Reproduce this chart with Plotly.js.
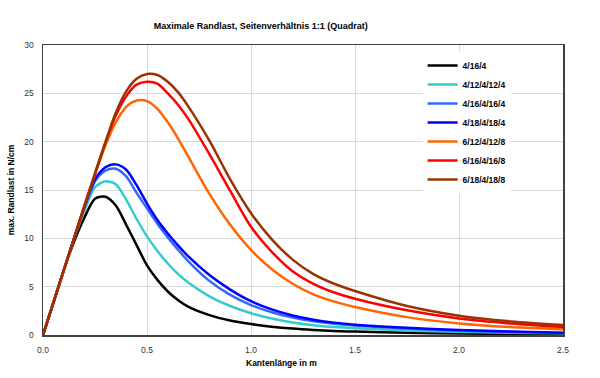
<!DOCTYPE html>
<html>
<head>
<meta charset="utf-8">
<script src="https://cdn.plot.ly/plotly-3.0.1.min.js"></script>
<style>html,body{margin:0;padding:0;background:#fff;}#chart{width:600px;height:378px;}</style>
</head>
<body>
<div id="chart"></div>
<script>
// Kantenlänge in m (shared x values)
const kantenlaenge = [0, 0.05, 0.1, 0.15, 0.2, 0.25, 0.3, 0.35, 0.4, 0.45, 0.5, 0.55, 0.6, 0.65, 0.7, 0.8, 0.9, 1.0, 1.1, 1.2, 1.3, 1.4, 1.5, 1.75, 2.0, 2.25, 2.5];

const seriesNames = ["4/16/4", "4/12/4/12/4", "4/16/4/16/4", "4/18/4/18/4", "6/12/4/12/8", "6/16/4/16/8", "6/18/4/18/8"];

const s_4_16_4 =        [0, 3.35, 6.7, 9.7, 12.2, 14.1, 14.3, 13.4, 11.4, 9.3, 7.2, 5.7, 4.5, 3.6, 2.9, 2.05, 1.5, 1.14, 0.86, 0.66, 0.52, 0.42, 0.35, 0.23, 0.16, 0.11, 0.08];
const s_4_12_4_12_4 =   [0, 3.35, 6.7, 10.0, 12.9, 15.3, 15.9, 15.6, 14.0, 12.0, 10.2, 8.7, 7.4, 6.3, 5.4, 4.0, 3.0, 2.25, 1.7, 1.3, 1.02, 0.83, 0.7, 0.47, 0.33, 0.24, 0.17];
const s_4_16_4_16_4 =   [0, 3.35, 6.7, 10.05, 13.2, 15.9, 17.0, 17.2, 16.4, 14.7, 13.1, 11.5, 10.1, 8.8, 7.6, 5.6, 4.15, 3.1, 2.35, 1.8, 1.42, 1.17, 0.98, 0.66, 0.45, 0.31, 0.21];
const s_4_18_4_18_4 =   [0, 3.35, 6.7, 10.05, 13.3, 16.1, 17.35, 17.65, 17.1, 15.5, 13.6, 11.9, 10.5, 9.25, 8.1, 6.2, 4.7, 3.5, 2.65, 2.02, 1.58, 1.28, 1.07, 0.74, 0.52, 0.36, 0.24];
const s_6_12_4_12_8 =   [0, 3.35, 6.7, 10.05, 13.4, 16.6, 19.6, 22.0, 23.6, 24.25, 24.2, 23.4, 22.0, 20.3, 18.4, 14.6, 11.4, 8.8, 6.8, 5.3, 4.2, 3.45, 2.9, 1.85, 1.2, 0.82, 0.59];
const s_6_16_4_16_8 =   [0, 3.35, 6.7, 10.05, 13.4, 16.7, 19.9, 22.7, 24.7, 25.9, 26.2, 26.0, 25.0, 23.8, 22.3, 18.7, 14.9, 11.2, 8.6, 6.6, 5.3, 4.4, 3.75, 2.55, 1.7, 1.18, 0.82];
const s_6_18_4_18_8 =   [0, 3.35, 6.7, 10.05, 13.4, 16.7, 19.95, 23.0, 25.2, 26.5, 27.0, 26.9, 26.2, 25.1, 23.6, 20.1, 16.1, 12.6, 9.9, 7.8, 6.3, 5.3, 4.55, 3.0, 2.0, 1.4, 1.03];

const seriesValues = [s_4_16_4, s_4_12_4_12_4, s_4_16_4_16_4, s_4_18_4_18_4, s_6_12_4_12_8, s_6_16_4_16_8, s_6_18_4_18_8];
const seriesColors = ["#000000", "#33CCCC", "#3366FF", "#0000FF", "#FF6600", "#FF0000", "#993300"];

const xTicks = [0, 0.5, 1.0, 1.5, 2.0, 2.5];
const yTicks = [0, 5, 10, 15, 20, 25, 30];

const FONT = "Liberation Sans, Arial, Helvetica, sans-serif";

const traces = seriesNames.map((name, i) => ({
  type: "scatter",
  mode: "lines",
  name: name,
  x: kantenlaenge,
  y: seriesValues[i],
  line: {color: seriesColors[i], width: 2.5, shape: "spline", smoothing: 0.8},
  hoverinfo: "skip"
}));

const layout = {
  width: 600,
  height: 378,
  paper_bgcolor: "#ffffff",
  plot_bgcolor: "#ffffff",
  margin: {l: 42.5, r: 36.5, t: 45, b: 43, pad: 0},
  showlegend: true,
  title: {
    text: "Maximale Randlast, Seitenverhältnis 1:1 (Quadrat)",
    font: {family: FONT, size: 9, color: "#000", weight: 700},
    x: 0.4345, xref: "container", xanchor: "center",
    y: 0.932, yref: "container", yanchor: "middle"
  },
  xaxis: {
    range: [0, 2.5],
    tickvals: xTicks,
    tickformat: ".1f",
    showgrid: true,
    gridcolor: "#d9d9d9",
    gridwidth: 1,
    zeroline: false,
    showline: true,
    linecolor: "#404040",
    linewidth: 1.5,
    mirror: true,
    ticks: "",
    ticklabelstandoff: 6,
    tickfont: {family: FONT, size: 8.5, color: "#333"},
    fixedrange: true
  },
  yaxis: {
    range: [0, 30],
    tickvals: yTicks,
    showgrid: true,
    gridcolor: "#d9d9d9",
    gridwidth: 1,
    zeroline: false,
    showline: true,
    linecolor: "#404040",
    linewidth: 1.5,
    mirror: true,
    ticks: "",
    ticklabelstandoff: 6,
    tickfont: {family: FONT, size: 8.5, color: "#333"},
    title: {text: "max. Randlast in N/cm", font: {family: FONT, size: 8.5, color: "#000", weight: 700}, standoff: 8},
    fixedrange: true
  },
  legend: {
    x: 0.73, xanchor: "left",
    y: 0.979, yanchor: "top",
    bgcolor: "#ffffff",
    borderwidth: 0,
    font: {family: FONT, size: 8.5, color: "#000", weight: 700},
    itemwidth: 30,
    tracegroupgap: 0
  },
  annotations: [{
    text: "Kantenlänge in m",
    xref: "paper", yref: "paper",
    x: 0.458, y: -0.095,
    xanchor: "center", yanchor: "middle",
    showarrow: false,
    font: {family: FONT, size: 8.5, color: "#000", weight: 700}
  }]
};

Plotly.newPlot("chart", traces, layout, {displayModeBar: false, staticPlot: true});
</script>
</body>
</html>
